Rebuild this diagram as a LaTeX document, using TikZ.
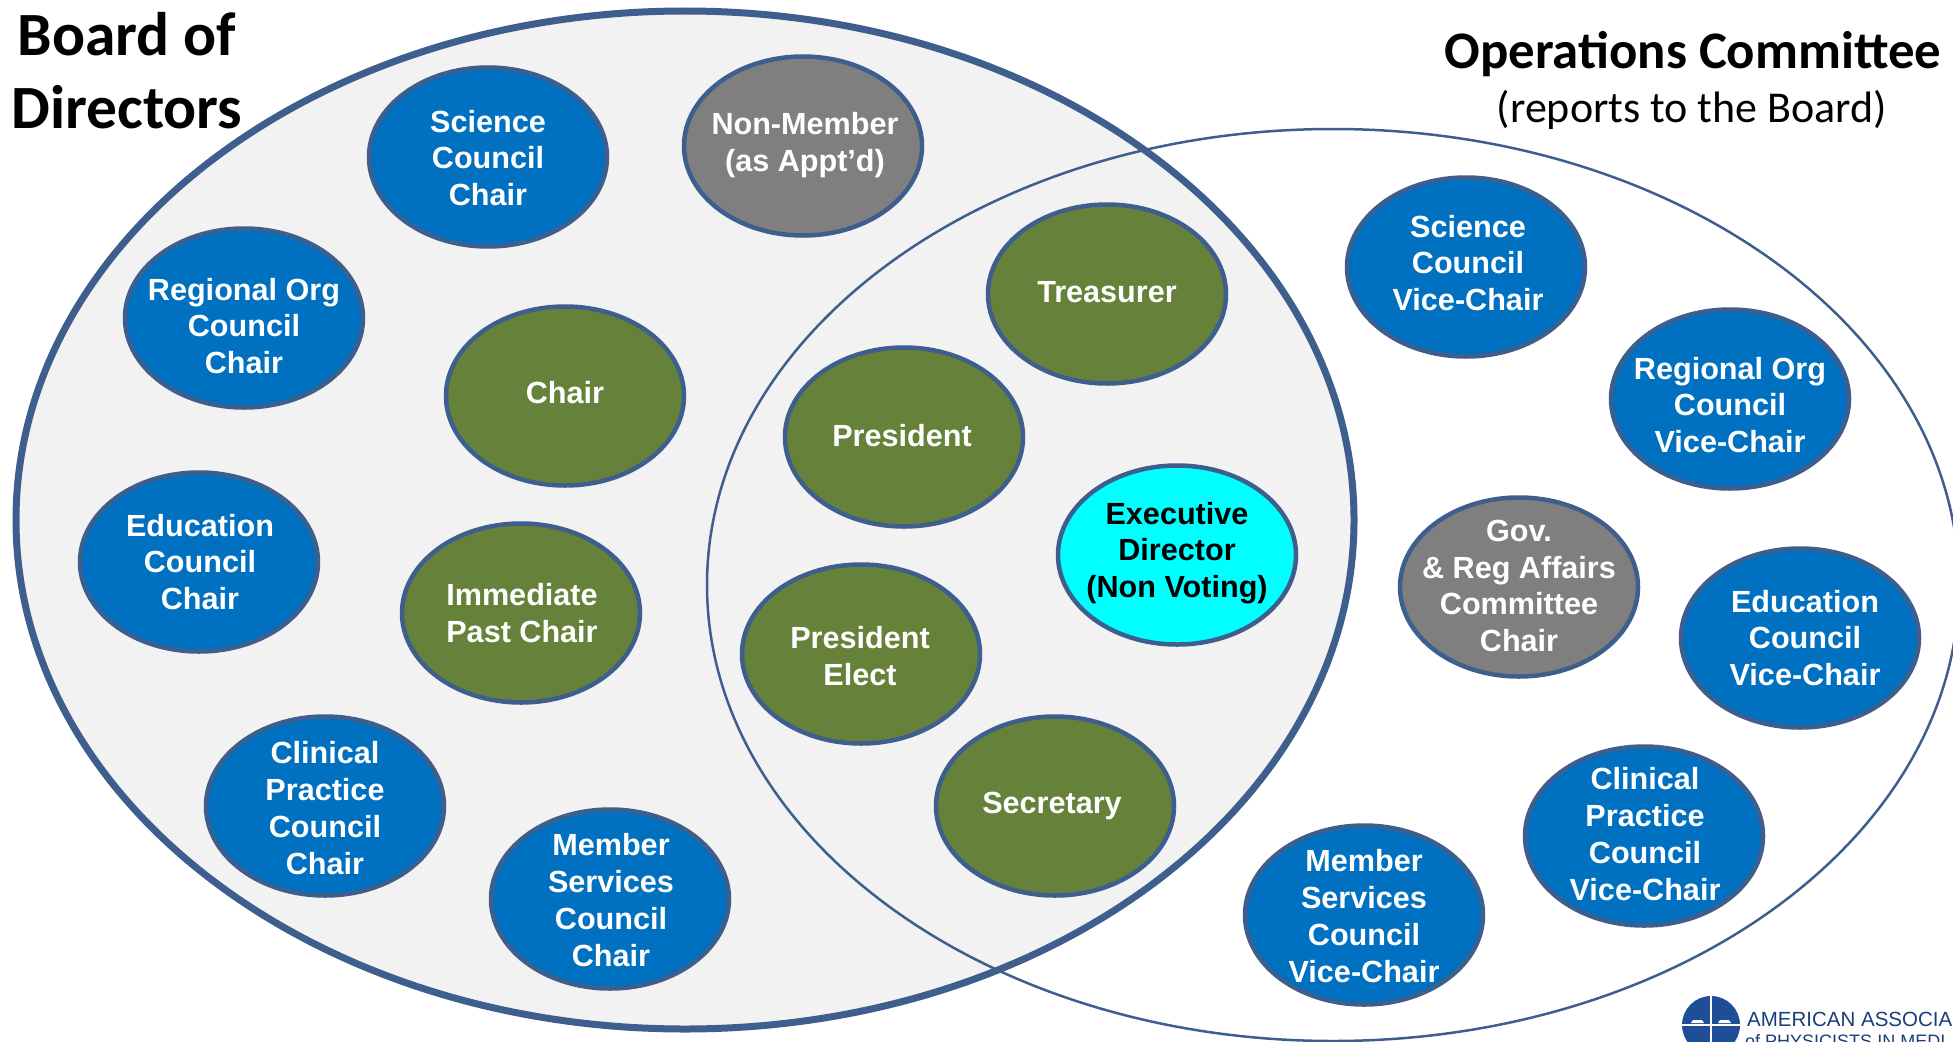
\documentclass[tikz,border=0pt]{standalone}
\usepackage{fontspec}
\setmainfont{Liberation Sans}
\newfontfamily\titlefont{Carlito}
\usetikzlibrary{shapes.geometric}
\definecolor{edgeblue}{HTML}{3E5F8E}
\definecolor{cblue}{HTML}{0070C0}
\definecolor{cgreen}{HTML}{668139}
\definecolor{cgray}{HTML}{7F7F7F}
\definecolor{ccyan}{HTML}{00FFFF}
\definecolor{cpanel}{HTML}{F2F2F2}
\definecolor{logoblue}{HTML}{1F4E96}
\tikzset{
  oval/.style={ellipse,draw=edgeblue,line width=4.5pt,minimum width=238pt,minimum height=179pt,inner sep=0pt,outer sep=0pt},
  ovaltext/.style={inner sep=0pt,align=center,text=white,font=\fontsize{30.6}{36.8}\selectfont\bfseries},
  bluebox/.style={oval,fill=cblue},
  greenbox/.style={oval,fill=cgreen},
  graybox/.style={oval,fill=cgray},
  cyanbox/.style={oval,fill=ccyan},
  bigtitle/.style={inner sep=0pt,align=center,font=\titlefont\fontsize{61.5}{73}\selectfont\bfseries},
}
% name, style, x, y, dx, dy (text offset), text, text colour
\newcommand\ovalnode[8]{\node[#2,label={[ovaltext,text=#8,xshift=#5pt,yshift=-#6pt]center:{#7}}] (#1) at (#3,#4) {};}
\begin{document}
\begin{tikzpicture}[x=1pt,y=-1pt]
\useasboundingbox (0,0) rectangle (1953,1041);
\clip (0,0) rectangle (1953,1041);
\node[ellipse,draw=edgeblue,fill=cpanel,line width=7pt,minimum width=1338pt,minimum height=1018pt,inner sep=0pt] (board) at (685,520) {};
\node[ellipse,draw=edgeblue,line width=2.5pt,minimum width=1252pt,minimum height=912pt,inner sep=0pt] (ops) at (1333,585) {};
\node[bigtitle] (boardtitle) at (127,71) {Board of\\Directors};
\node[inner sep=0pt,font=\titlefont\fontsize{52.8}{60}\selectfont\bfseries] (opstitle) at (1693,54) {Operations Committee};
\node[inner sep=0pt,font=\titlefont\fontsize{44}{50}\selectfont] (opssub) at (1692,110) {(reports to the Board)};
\ovalnode{sc}{bluebox}{488}{157}{0}{1}{Science\\Council\\Chair}{white}
\ovalnode{nm}{graybox}{803}{146}{2}{-1}{Non-Member\\(as Appt’d)}{white}
\ovalnode{ro}{bluebox}{244}{318}{0}{8}{Regional Org\\Council\\Chair}{white}
\ovalnode{ch}{greenbox}{565}{396}{0}{-3}{Chair}{white}
\ovalnode{tr}{greenbox}{1107}{294}{0}{-2}{Treasurer}{white}
\ovalnode{pr}{greenbox}{904}{437}{-2}{-1}{President}{white}
\ovalnode{ed}{bluebox}{199}{562}{1}{0}{Education\\Council\\Chair}{white}
\ovalnode{ip}{greenbox}{521}{613}{1}{0}{Immediate\\Past Chair}{white}
\ovalnode{ex}{cyanbox}{1177}{555}{0}{-2}{Executive\\Director\\(Non Voting)}{black}
\ovalnode{pe}{greenbox}{861}{654}{-1}{2}{President\\Elect}{white}
\ovalnode{cp}{bluebox}{325}{806}{0}{2}{Clinical\\Practice\\Council\\Chair}{white}
\ovalnode{ms}{bluebox}{610}{899}{1}{1}{Member\\Services\\Council\\Chair}{white}
\ovalnode{se}{greenbox}{1055}{806}{-3}{0}{Secretary}{white}
\ovalnode{scv}{bluebox}{1466}{267}{2}{-4}{Science\\Council\\Vice-Chair}{white}
\ovalnode{rov}{bluebox}{1730}{399}{0}{6}{Regional Org\\Council\\Vice-Chair}{white}
\ovalnode{gov}{graybox}{1519}{587}{0}{-1}{Gov.\\\& Reg Affairs\\Committee\\Chair}{white}
\ovalnode{edv}{bluebox}{1800}{638}{5}{0}{Education\\Council\\Vice-Chair}{white}
\ovalnode{cpv}{bluebox}{1644}{836}{1}{-2}{Clinical\\Practice\\Council\\Vice-Chair}{white}
\ovalnode{msv}{bluebox}{1364}{915}{0}{1}{Member\\Services\\Council\\Vice-Chair}{white}
% logo
\node[circle,fill=logoblue,minimum size=58pt,inner sep=0pt] (logo) at (1711,1025) {};
\draw[white,line width=1.5pt] (logo.north) -- (logo.south) (logo.west) -- (logo.east);
\fill[white] (1693,1020) -- (1702,1020) -- (1704,1023) -- (1691,1023) -- cycle;
\fill[white] (1720,1020) -- (1729,1020) -- (1731,1023) -- (1718,1023) -- cycle;
\node[anchor=west,inner sep=0pt,text=logoblue!80!black,font=\fontsize{20.5}{24}\selectfont] (logotext1) at (1747,1019) {AMERICAN ASSOCIA};
\node[anchor=west,inner sep=0pt,text=logoblue!80!black,font=\fontsize{18}{20}\selectfont] (logotext2) at (1745,1041) {of PHYSICISTS IN MEDI};
\end{tikzpicture}
\end{document}
